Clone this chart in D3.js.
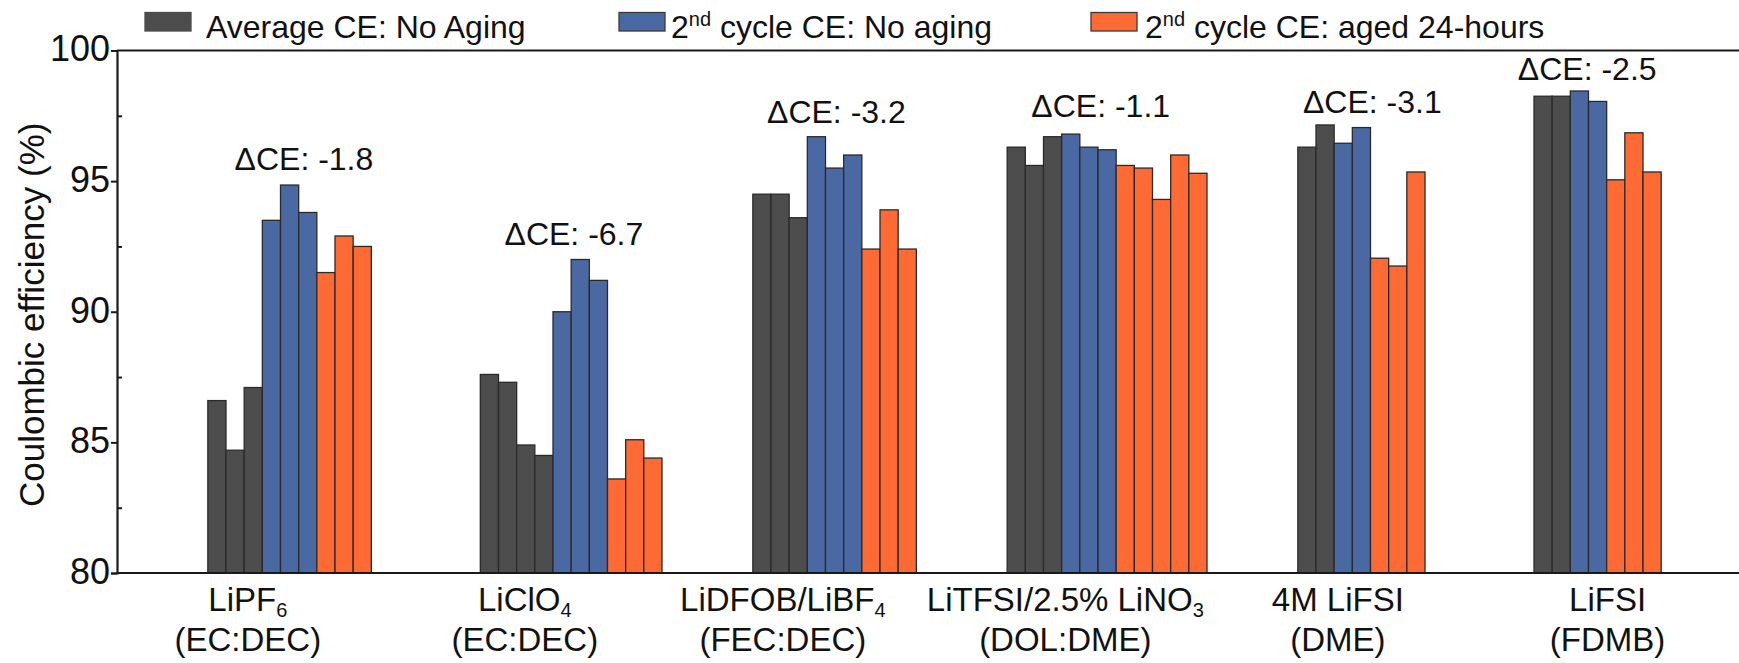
<!DOCTYPE html>
<html>
<head>
<meta charset="utf-8">
<script src="https://cdn.jsdelivr.net/npm/d3@7"></script>
<style>
  html, body { margin: 0; padding: 0; background: #fff; }
  svg { display: block; }
  text { font-family: "Liberation Sans", Arial, Helvetica, sans-serif; fill: #111; }
</style>
</head>
<body>
<svg id="chart" width="1739" height="663"></svg>
<script>
// Electrolyte categories (formula with subscript, solvent on second line)
const saltNames   = ["LiPF", "LiClO", "LiDFOB/LiBF", "LiTFSI/2.5% LiNO", "4M LiFSI", "LiFSI"];
const saltSubs    = ["6", "4", "4", "3", "", ""];
const solventNames = ["(EC:DEC)", "(EC:DEC)", "(FEC:DEC)", "(DOL:DME)", "(DME)", "(FDMB)"];

// Category label positions on the bar-slot axis
const categoryTickSlots = [7.2, 22.45, 36.65, 52.2, 67.2, 82.05];

// First bar slot of each electrolyte group
const groupStartSlot = [5, 20, 35, 49, 65, 78];

// Coulombic efficiency (%) for every cell tested
const avgCENoAging = [
  [86.6, 84.7, 87.1],
  [87.6, 87.3, 84.9, 84.5],
  [94.5, 94.5, 93.6],
  [96.3, 95.6, 96.7],
  [96.3, 97.15],
  [98.25, 98.25]
];
const secondCycleNoAging = [
  [93.5, 94.85, 93.8],
  [90.0, 92.0, 91.2],
  [96.7, 95.5, 96.0],
  [96.8, 96.3, 96.2],
  [96.45, 97.05],
  [98.45, 98.05]
];
const secondCycleAged24h = [
  [91.5, 92.9, 92.5],
  [83.6, 85.1, 84.4],
  [92.4, 93.9, 92.4],
  [95.6, 95.5, 94.3, 96.0, 95.3],
  [92.05, 91.75, 95.35],
  [95.05, 96.85, 95.35]
];

// ΔCE annotations (slot, value) anchors
const deltaCE      = ["-1.8", "-6.7", "-3.2", "-1.1", "-3.1", "-2.5"];
const deltaSlot    = [10.29, 25.15, 39.6, 54.15, 69.1, 80.93];
const deltaValue   = [95.43, 92.56, 97.22, 97.45, 97.6, 98.86];

// Y axis ticks
const yMajorTicks = [80, 85, 90, 95, 100];
const yMinorTicks = [82.5, 87.5, 92.5, 97.5];

const seriesNames = ["Average CE: No Aging", "2nd cycle CE: No aging", "2nd cycle CE: aged 24-hours"];
const seriesColors = ["#4d4d4d", "#4a69a3", "#fe6a33"];

const svg = d3.select("#chart");

const x = d3.scaleLinear().domain([0, 90]).range([117, 1752]);
const y = d3.scaleLinear().domain([80, 100]).range([573, 50.5]);
const slotW = x(1) - x(0);

// Flatten bars: each group lays out its three series one after another
const bars = [];
groupStartSlot.forEach((start, g) => {
  let slot = start;
  [avgCENoAging, secondCycleNoAging, secondCycleAged24h].forEach((series, s) => {
    series[g].forEach(v => {
      bars.push({ slot: slot, value: v, series: s });
      slot += 1;
    });
  });
});

svg.append("g").selectAll("rect")
  .data(bars)
  .join("rect")
  .attr("x", d => x(d.slot))
  .attr("y", d => y(d.value))
  .attr("width", slotW)
  .attr("height", d => y(80) - y(d.value))
  .attr("fill", d => seriesColors[d.series])
  .attr("stroke", "#2a2a2a")
  .attr("stroke-width", 1.3);

// Frame: top and bottom spines across the full width
const frame = svg.append("g").attr("stroke", "#1a1a1a").attr("stroke-width", 2.2).attr("fill", "none");
frame.append("line").attr("x1", x(0)).attr("x2", 1739).attr("y1", y(100)).attr("y2", y(100));
frame.append("line").attr("x1", x(0)).attr("x2", 1739).attr("y1", y(80)).attr("y2", y(80));

// Left axis: major ticks outward with labels, minor ticks inward
const yAxisMajor = d3.axisLeft(y).tickValues(yMajorTicks).tickSize(6).tickPadding(1).tickFormat(d3.format("d"));
const gMajor = svg.append("g").attr("transform", `translate(${x(0)},0)`).call(yAxisMajor);
gMajor.select(".domain").attr("stroke", "#1a1a1a").attr("stroke-width", 2.2);
gMajor.selectAll(".tick line").attr("stroke", "#1a1a1a").attr("stroke-width", 2);
gMajor.selectAll(".tick text")
  .attr("font-size", 36)
  .attr("font-family", "\"Liberation Sans\", Arial, sans-serif")
  .attr("fill", "#111")
  .attr("dy", "0.29em");

const yAxisMinor = d3.axisRight(y).tickValues(yMinorTicks).tickSize(5).tickFormat("");
const gMinor = svg.append("g").attr("transform", `translate(${x(0)},0)`).call(yAxisMinor);
gMinor.select(".domain").remove();
gMinor.selectAll(".tick line").attr("stroke", "#1a1a1a").attr("stroke-width", 2);

// Y title
svg.append("text")
  .attr("transform", `translate(44,${(y(80) + y(100)) / 2 + 3}) rotate(-90)`)
  .attr("text-anchor", "middle")
  .attr("font-size", 35)
  .text("Coulombic efficiency (%)");

// Category labels (two lines, first with subscript)
const cat = svg.append("g").selectAll("g")
  .data(saltNames)
  .join("g")
  .attr("transform", (d, i) => `translate(${x(categoryTickSlots[i])},0)`);

cat.append("text")
  .attr("y", 611)
  .attr("text-anchor", "middle")
  .attr("font-size", 33)
  .each(function (d, i) {
    const t = d3.select(this);
    t.append("tspan").text(d);
    if (saltSubs[i]) {
      t.append("tspan").attr("font-size", 20).attr("dy", 6).text(saltSubs[i]);
    }
  });

cat.append("text")
  .attr("y", 651)
  .attr("text-anchor", "middle")
  .attr("font-size", 33)
  .text((d, i) => solventNames[i]);

// ΔCE annotations
svg.append("g").selectAll("text")
  .data(deltaCE)
  .join("text")
  .attr("x", (d, i) => x(deltaSlot[i]))
  .attr("y", (d, i) => y(deltaValue[i]))
  .attr("text-anchor", "middle")
  .attr("font-size", 32)
  .text(d => "\u0394CE: " + d);

// Legend
const legendSwatchX = [145, 619, 1091];
const legendTextX = [206, 671, 1145];
const legend = svg.append("g");
seriesNames.forEach((name, i) => {
  legend.append("rect")
    .attr("x", legendSwatchX[i]).attr("y", 12.5)
    .attr("width", 46).attr("height", 18.5)
    .attr("fill", seriesColors[i])
    .attr("stroke", i === 0 ? "#4d4d4d" : "#3a3a3a")
    .attr("stroke-width", 1.3);
  const t = legend.append("text")
    .attr("x", legendTextX[i]).attr("y", 38)
    .attr("font-size", 32);
  if (name.startsWith("2nd")) {
    t.append("tspan").text("2");
    t.append("tspan").attr("font-size", 20).attr("dy", -12).text("nd");
    t.append("tspan").attr("dy", 12).text(name.slice(3));
  } else {
    t.text(name);
  }
});
</script>
</body>
</html>
